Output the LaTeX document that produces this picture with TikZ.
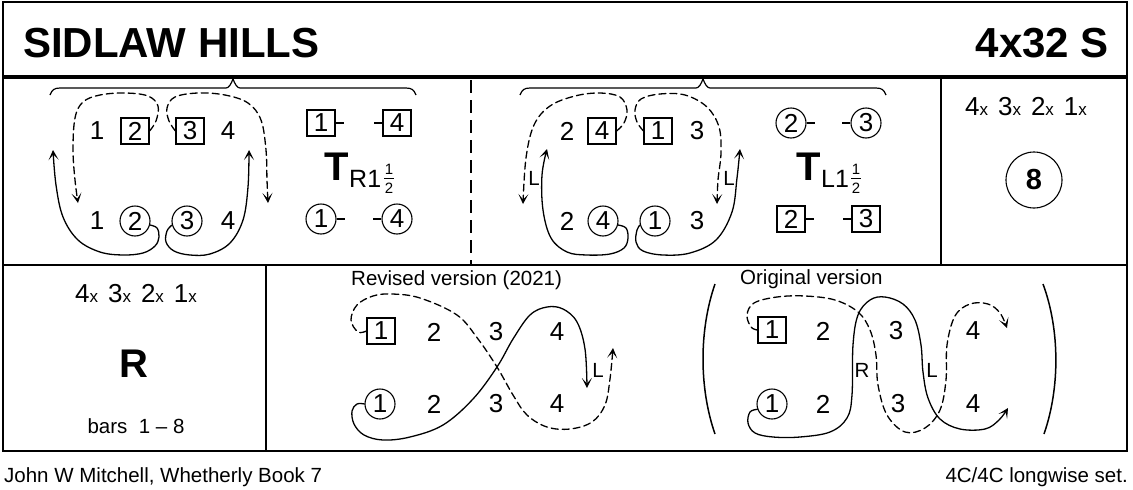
\documentclass[tikz,border=0pt]{standalone}
\usepackage{fontspec}
\setmainfont{Liberation Sans}
\usetikzlibrary{arrows.meta}
\newcommand{\fs}[1]{\fontsize{#1}{#1}\selectfont}
\newcommand{\nx}[1]{{\fs{26}#1}{\fs{17}x}}
\begin{document}
\begin{tikzpicture}[x=1pt,y=-1pt,
 num/.style={inner sep=0pt, font=\fs{26}},
 bx/.style={num, draw, line width=1.1pt, minimum width=28pt, minimum height=26pt},
 cr/.style={num, draw, circle, line width=1.1pt, minimum size=30pt},
 lab/.style={inner sep=0pt, font=\fs{20.5}},
 crv/.style={line width=1.3pt, line cap=round},
 dsh/.style={crv, dash pattern=on 7pt off 4pt},
 arr/.style={-{Stealth[length=10pt,width=10pt,inset=5.5pt]}},
 panelline/.style={line width=1.6pt},
 tl/.style={line width=1.3pt},
 brace/.style={line width=1.2pt},
]
\useasboundingbox (0,0) rectangle (1133,490);
\fill[white] (0,0) rectangle (1133,490);

% frames
\draw[panelline] (3,2) rectangle (1127,76);
\draw[panelline] (3,78) rectangle (1127,451);
\draw[panelline] (3,265) -- (1127,265);
\draw[panelline] (941,78) -- (941,265);
\draw[panelline] (266,265) -- (266,451);
\draw[line width=1.4pt, dash pattern=on 13pt off 7pt] (471,80) -- (471,264);

% title
\node[anchor=base west, inner sep=0pt, font=\fs{42}\bfseries] (title) at (23,57) {SIDLAW HILLS};
\node[anchor=base east, inner sep=0pt, font=\fs{42}\bfseries] (form) at (1109,57) {4x32 S};

% footer
\node[anchor=base west, lab] (auth) at (4,482) {John W Mitchell, Whetherly Book 7};
\node[anchor=base east, lab] (sett) at (1128,482) {4C/4C longwise set.};

% ---------- panel 1 ----------
\draw[brace] (50,95) .. controls (52,90) and (54,88) .. (60,88) -- (226,88) .. controls (229,88) and (231,84) .. (233,79) .. controls (235,84) and (237,88) .. (240,88) -- (406,88) .. controls (412,88) and (414,90) .. (416,95);
\node[num] (a1) at (97,131) {1};
\node[bx] (a2) at (135,131) {2};
\node[bx] (a3) at (190,131) {3};
\node[num] (a4) at (228,131) {4};
\node[num] (b1) at (97,221) {1};
\node[cr] (b2) at (135,221) {2};
\node[cr] (b3) at (187,221) {3};
\node[num] (b4) at (228,221) {4};
\draw[dsh,arr] plot[smooth,tension=0.6] coordinates {(a2.east) (156,121) (158,106) (148,96) (125,93) (100,95) (83,102) (75,118) (73,150) (75,180) (78,203)};
\draw[dsh,arr] plot[smooth,tension=0.6] coordinates {(a3.west) (169,121) (167,108) (175,97) (198,93) (225,95) (248,103) (261,120) (266,150) (267,180) (268,203)};
\draw[crv,arr] plot[smooth,tension=0.6] coordinates {(b2.-15) (157,228) (159,237) (155,246) (143,253) (123,255) (100,252) (78,240) (63,217) (56,185) (53,150)};
\draw[crv,arr] plot[smooth,tension=0.6] coordinates {(b3.195) (167,231) (166,242) (174,251) (190,255) (210,254) (230,243) (243,220) (248,187) (249,150)};

\node[bx] (c1) at (321,123) {1}; \draw[tl] (c1.east) -- ++(8,0);
\node[bx] (c4) at (397,123) {4}; \draw[tl] (c4.west) -- ++(-8,0);
\node[cr] (d1) at (321,219) {1}; \draw[tl] (d1.east) -- ++(8,0);
\node[cr] (d4) at (397,219) {4}; \draw[tl] (d4.west) -- ++(-8,0);
\node[anchor=base west, inner sep=0pt, font=\fs{40}\bfseries] (t1) at (324,180) {T};
\node[anchor=base west, inner sep=0pt, font=\fs{25}] (t1s) at (349,187) {R1};
\node[inner sep=0pt, font=\fs{15}] (t1n) at (389,169) {1};
\node[inner sep=0pt, font=\fs{15}] (t1d) at (389,188) {2};
\draw[line width=0.8pt] (384,178) -- (394,178);

% ---------- panel 2 ----------
\draw[brace] (520,95) .. controls (522,90) and (524,88) .. (530,88) -- (696,88) .. controls (699,88) and (701,84) .. (703,79) .. controls (705,84) and (707,88) .. (710,88) -- (876,88) .. controls (882,88) and (884,90) .. (886,95);
\node[num] (e1) at (567,131) {2};
\node[bx] (e2) at (602,131) {4};
\node[bx] (e3) at (658,131) {1};
\node[num] (e4) at (697,131) {3};
\node[num] (f1) at (567,221) {2};
\node[cr] (f2) at (603,221) {4};
\node[cr] (f3) at (655,221) {1};
\node[num] (f4) at (697,221) {3};
\draw[dsh,arr] plot[smooth,tension=0.6] coordinates {(e2.east) (624,123) (627,110) (620,97) (600,93) (575,96) (550,106) (534,125) (526,158) (523,204)};
\draw[dsh,arr] plot[smooth,tension=0.6] coordinates {(e3.west) (637,122) (635,110) (641,99) (660,94) (685,95) (707,107) (719,127) (721,153) (718,180) (717,204)};
\draw[crv,arr] plot[smooth,tension=0.6] coordinates {(f2.-15) (626,228) (628,238) (624,248) (610,254) (587,255) (567,252) (551,238) (543,210) (542,175) (547,149)};
\draw[crv,arr] plot[smooth,tension=0.6] coordinates {(f3.195) (637,230) (636,242) (643,251) (663,255) (690,253) (716,240) (732,212) (737,178) (740,149)};
\node[lab] (l1) at (534,178) {L};
\node[lab] (l2) at (729,178) {L};

\node[cr] (g1) at (791,123) {2}; \draw[tl] (g1.east) -- ++(8,0);
\node[cr] (g4) at (866,123) {3}; \draw[tl] (g4.west) -- ++(-8,0);
\node[bx] (h1) at (791,219) {2}; \draw[tl] (h1.east) -- ++(8,0);
\node[bx] (h4) at (866,219) {3}; \draw[tl] (h4.west) -- ++(-8,0);
\node[anchor=base west, inner sep=0pt, font=\fs{40}\bfseries] (t2) at (796,180) {T};
\node[anchor=base west, inner sep=0pt, font=\fs{25}] (t2s) at (821,187) {L1};
\node[inner sep=0pt, font=\fs{15}] (t2n) at (856,169) {1};
\node[inner sep=0pt, font=\fs{15}] (t2d) at (856,188) {2};
\draw[line width=0.8pt] (851,178) -- (861,178);

% ---------- top right ----------
\node[anchor=base, inner sep=0pt, font=\fs{26}] (rc) at (1026,115) {\nx4\hspace{10pt}\nx3\hspace{10pt}\nx2\hspace{10pt}\nx1};
\node[draw, circle, minimum size=56pt, inner sep=0pt, line width=1.1pt, font=\fs{29}\bfseries] (c8) at (1034,180) {8};

% ---------- bottom left ----------
\node[anchor=base, inner sep=0pt, font=\fs{26}] (bl) at (136,302) {\nx4\hspace{10pt}\nx3\hspace{10pt}\nx2\hspace{10pt}\nx1};
\node[anchor=base, inner sep=0pt, font=\fs{40}\bfseries] (bR) at (134,377) {R};
\node[anchor=base, lab] (bars) at (136,433) {bars\ \ 1 – 8};

% ---------- revised ----------
\node[anchor=base west, lab] (rv) at (351,285) {Revised version (2021)};
\node[bx] (r1) at (381,331) {1};
\node[num] (r2) at (434,332) {2};
\node[num] (r3) at (496,332) {3};
\node[num] (r4) at (557,332) {4};
\node[cr] (s1) at (380,404) {1};
\node[num] (s2) at (434,404) {2};
\node[num] (s3) at (496,404) {3};
\node[num] (s4) at (557,404) {4};
\draw[dsh,arr] plot[smooth,tension=0.6] coordinates {(r1.west) (358,332) (351,320) (357,305) (373,296) (392,294) (420,298) (457,315) (478,339) (497,367) (513,395) (527,415) (547,427) (570,429) (592,422) (605,405) (610,379) (613,348)};
\draw[crv,arr] plot[smooth,tension=0.6] coordinates {(s1.west) (357,404) (352,411) (354,424) (364,435) (383,440) (410,437) (443,425) (473,399) (497,367) (513,339) (530,315) (547,307) (563,309) (577,322) (585,349) (587,388)};
\node[lab] (rl) at (598,370) {L};

% ---------- original ----------
\node[anchor=base west, lab] (ov) at (740,284) {Original version};
\draw[line width=1.5pt] (715,284) .. controls (699,330) and (699,388) .. (715,434);
\draw[line width=1.5pt] (1043,284) .. controls (1060,330) and (1060,388) .. (1044,434);
\node[bx] (o1) at (772,330) {1};
\node[num] (o2) at (823,331) {2};
\node[num] (o3) at (896,331) {3};
\node[num] (o4) at (973,331) {4};
\node[cr] (p1) at (772,404) {1};
\node[num] (p2) at (823,404) {2};
\node[num] (p3) at (898,404) {3};
\node[num] (p4) at (973,404) {4};
\draw[crv,arr] plot[smooth,tension=0.6] coordinates {(p1.200) (750,412) (748,423) (755,433) (773,437) (800,437) (830,432) (847,418) (852,395) (853,345) (858,315) (870,300) (885,297) (903,304) (915,320) (921,345) (923,372) (928,398) (940,419) (960,429) (985,429) (999,420) (1008,408)};
\draw[dsh,arr] plot[smooth,tension=0.6] coordinates {(o1.west) (751,327) (747,315) (754,303) (777,297) (805,296) (835,300) (858,312) (870,330) (876,355) (878,385) (887,415) (905,432) (925,428) (940,410) (946,380) (947,345) (955,316) (970,304) (988,304) (1000,313) (1007,328)};
\node[lab] (orl) at (862,370) {R};
\node[lab] (oll) at (932,370) {L};
\end{tikzpicture}
\end{document}
